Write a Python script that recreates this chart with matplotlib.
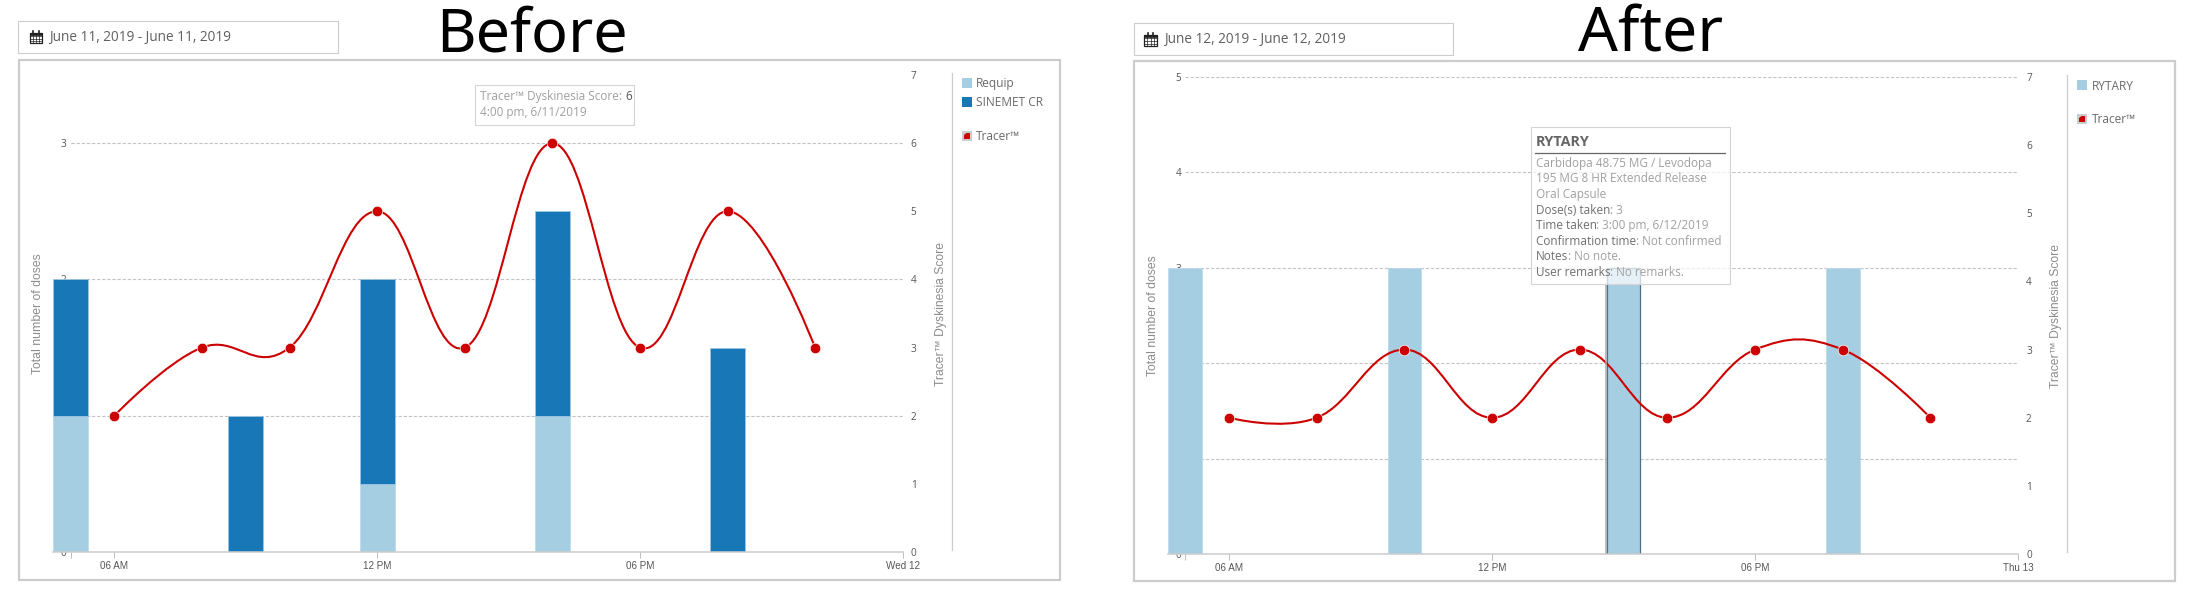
import matplotlib
matplotlib.use("Agg")
import matplotlib.pyplot as plt
from matplotlib.path import Path
from matplotlib.patches import PathPatch, Rectangle
from matplotlib.lines import Line2D

# ---------- data ----------
before_bar_hours = [5, 9, 12, 16, 20]
before_requip = [1, 0, 0.5, 1, 0]
before_sinemet = [1, 1, 1.5, 1.5, 1.5]
before_score_hours = [6, 8, 10, 12, 14, 16, 18, 20, 22]
before_score = [2, 3, 3, 5, 3, 6, 3, 5, 3]

after_bar_hours = [5, 10, 15, 20]
after_rytary = [3, 3, 3, 3]
after_score_hours = [6, 8, 10, 12, 14, 16, 18, 20, 22]
after_score = [2, 2, 3, 2, 3, 2, 3, 3, 2]

x_tick_hours = [5, 6, 12, 18, 24]
before_x_labels = ["", "06 AM", "12 PM", "06 PM", "Wed 12"]
after_x_labels = ["", "06 AM", "12 PM", "06 PM", "Thu 13"]
before_left_ticks = [0, 1, 2, 3]
after_left_ticks = [0, 1, 2, 3, 4, 5]
right_ticks = [0, 1, 2, 3, 4, 5, 6, 7]

LIGHT = "#a6cee3"
DARK = "#1877b6"
RED = "#cc0000"
GRID = "#c4c4c4"
UI = "Open Sans"
HELV = "Liberation Sans"
W, H = 2200, 600

fig = plt.figure(figsize=(22, 6), dpi=100, facecolor="white")


def spline_path(xs, ys, s=1.5):
    """Spline through the given points, with the overshoot the chart shows."""
    verts = [(xs[0], ys[0])]
    codes = [Path.MOVETO]
    n = len(xs)
    lc, rc = [None] * n, [None] * n
    for i in range(n):
        x, y = xs[i], ys[i]
        if i == 0 or i == n - 1:
            lc[i] = rc[i] = (x, y)
            continue
        lx, ly, nx, ny = xs[i - 1], ys[i - 1], xs[i + 1], ys[i + 1]
        lcx, lcy = (s * x + lx) / (s + 1), (s * y + ly) / (s + 1)
        rcx, rcy = (s * x + nx) / (s + 1), (s * y + ny) / (s + 1)
        corr = (rcy - lcy) * (rcx - x) / (rcx - lcx) + y - rcy
        lc[i], rc[i] = (lcx, lcy + corr), (rcx, rcy + corr)
    for i in range(1, n):
        verts += [rc[i - 1], lc[i], (xs[i], ys[i])]
        codes += [Path.CURVE4] * 3
    return Path(verts, codes)


def make_axes(px_left, px_right, px_top, px_bottom, left_max, left_ticks, x_labels):
    ax = fig.add_axes([px_left / W, 1 - px_bottom / H, (px_right - px_left) / W, (px_bottom - px_top) / H])
    ax.patch.set_alpha(0)
    ax.set_xlim(5 - 0.4, 24)
    ax.set_ylim(0, left_max)
    ax.set_axisbelow(True)
    for s in ["top", "left", "right"]:
        ax.spines[s].set_visible(False)
    ax.spines["bottom"].set_color("#cccccc")
    ax.spines["bottom"].set_linewidth(1.1)
    ax.set_xticks(x_tick_hours, x_labels, fontname=HELV, fontsize=7.1, color="#555555")
    ax.tick_params(axis="x", length=4.3, width=0.7, color="#bbbbbb", pad=2.2)
    ax.set_yticks(left_ticks)
    ax.tick_params(axis="y", length=0, pad=-9.6, labelsize=7.2, labelcolor="#555555")
    for lab in ax.get_yticklabels():
        lab.set_fontname(UI)
    for v in left_ticks:
        if v > 0:
            ax.plot([5, 24], [v, v], color=GRID, lw=0.8, dashes=(3, 1.6), zorder=0.6)
    tw = ax.twinx()
    tw.patch.set_alpha(0)
    tw.set_ylim(0, 7)
    tw.set_yticks(right_ticks)
    tw.tick_params(axis="y", length=0, pad=5.8, labelsize=7.2, labelcolor="#555555")
    for lab in tw.get_yticklabels():
        lab.set_fontname(UI)
    for s in tw.spines.values():
        s.set_visible(False)
    return ax, tw


def draw_score(tw, hours, score):
    tw.add_patch(PathPatch(spline_path(hours, score), fc="none", ec=RED, lw=1.5, zorder=3))
    tw.plot(hours, score, ls="none", marker="o", ms=7.6, mfc=RED, mec="white", mew=0.5, zorder=4)


# ---------- Before ----------
ax1, tw1 = make_axes(53, 902.7, 75, 552, 3.5, before_left_ticks, before_x_labels)
ax1.bar(before_bar_hours, before_requip, width=0.8, color=LIGHT, edgecolor="#bcdcec", lw=0.6, zorder=1)
ax1.bar(before_bar_hours, before_sinemet, width=0.8, bottom=before_requip, color=DARK,
        edgecolor="#9cc6e2", lw=0.6, zorder=1)
draw_score(tw1, before_score_hours, before_score)

# ---------- After ----------
ax2, tw2 = make_axes(1167.8, 2018, 77, 554, 5, after_left_ticks, after_x_labels)
bars = ax2.bar(after_bar_hours, after_rytary, width=0.77, color=LIGHT, edgecolor="#bcdcec", lw=0.6, zorder=1)
bars[2].set_edgecolor("#4f6f85")
bars[2].set_linewidth(0.9)
draw_score(tw2, after_score_hours, after_score)

# ---------- page furniture, in pixel coordinates ----------
ov = fig.add_axes([0, 0, 1, 1], zorder=10)
ov.set_xlim(0, W)
ov.set_ylim(H, 0)
ov.axis("off")


def box(x0, y0, x1, y1, ec="#cccccc", lw=0.8, fc="none", alpha=None, z=1):
    r = Rectangle((x0, y0), x1 - x0, y1 - y0, fc=fc, ec="none", alpha=alpha, zorder=z)
    ov.add_patch(r)
    ov.add_patch(Rectangle((x0, y0), x1 - x0, y1 - y0, fc="none", ec=ec, lw=lw, zorder=z))


def calendar(x0, y0, x1, y1):
    ov.add_patch(Rectangle((x0, y0 + 2), x1 - x0, y1 - y0 - 2, fc="white", ec="#222222", lw=0.9))
    ov.add_patch(Rectangle((x0, y0 + 2), x1 - x0, 2.6, fc="#222222", ec="#222222", lw=0.5))
    for f in (0.25, 0.5, 0.75):
        ov.add_line(Line2D([x0 + f * (x1 - x0)] * 2, [y0 + 4, y1], color="#222222", lw=0.5))
    for f in (0.4, 0.6, 0.8):
        yy = y0 + f * (y1 - y0) + 0.6
        ov.add_line(Line2D([x0, x1], [yy, yy], color="#222222", lw=0.5))
    for f in (0.27, 0.73):
        ov.add_line(Line2D([x0 + f * (x1 - x0)] * 2, [y0, y0 + 3], color="#222222", lw=1.2))


def legend_patch(x, y, color):
    ov.add_patch(Rectangle((x, y), 10, 10, fc=color, ec="none"))


def tracer_icon(x, y):
    ov.add_patch(Rectangle((x, y), 10, 10, fc="#cccccc", ec="none"))
    verts = [(x + 2, y + 8), (x + 2, y + 4), (x + 4.5, y + 2), (x + 8, y + 2), (x + 8, y + 8), (x + 2, y + 8)]
    ov.add_patch(PathPatch(Path(verts), fc=RED, ec="none"))


# panels
box(19, 59.5, 1059.5, 580, lw=1.6)
box(1133.5, 61, 2175, 581, lw=1.6)
# date boxes
box(18, 20.5, 337.5, 53)
box(1133.5, 22.5, 1452.5, 55)
calendar(29.5, 30.5, 42, 43)
calendar(1144, 32.5, 1157, 45.5)
ov.text(49, 37, "June 11, 2019 - June 11, 2019", family=UI, fontsize=9.85, color="#5f5f5f", va="center")
ov.text(1164, 39, "June 12, 2019 - June 12, 2019", family=UI, fontsize=9.85, color="#5f5f5f", va="center")
# hovered bar's shadow edge
ov.add_line(Line2D([1606, 1606], [284, 553], color="#a8a8a8", lw=1.1, zorder=2))
# titles
ov.text(532, 51, "Before", family="Noto Sans", fontsize=44, color="black", ha="center", va="baseline")
ov.text(1650.5, 52, "After", family="Noto Sans", fontsize=45, color="black", ha="center", va="baseline")
# axis titles
TC = "#8c8c8c"
ov.text(38, 314, "Total number of doses", family=HELV, fontsize=8.8, color=TC, rotation=90, ha="center", va="center")
ov.text(941, 314, "Tracer™ Dyskinesia Score", family=HELV, fontsize=8.7, color=TC, rotation=90, ha="center", va="center")
ov.text(1152.5, 316, "Total number of doses", family=HELV, fontsize=8.8, color=TC, rotation=90, ha="center", va="center")
ov.text(2056, 316, "Tracer™ Dyskinesia Score", family=HELV, fontsize=8.7, color=TC, rotation=90, ha="center", va="center")
# legends
ov.add_line(Line2D([951.5, 951.5], [73, 550], color="#cccccc", lw=0.9))
ov.add_line(Line2D([2066.5, 2066.5], [75, 552], color="#cccccc", lw=0.9))
legend_patch(962, 78, LIGHT)
legend_patch(962, 97, DARK)
tracer_icon(962, 131)
ov.text(976, 84, "Requip", family=UI, fontsize=8.6, color="#6a6a6a", va="center")
ov.text(976, 103, "SINEMET CR", family=UI, fontsize=8.6, color="#6a6a6a", va="center")
ov.text(976, 136.5, "Tracer™", family=UI, fontsize=8.6, color="#6a6a6a", va="center")
legend_patch(2077, 80, LIGHT)
tracer_icon(2077, 114)
ov.text(2091.5, 86, "RYTARY", family=UI, fontsize=8.6, color="#6a6a6a", va="center")
ov.text(2091.5, 119.5, "Tracer™", family=UI, fontsize=8.6, color="#6a6a6a", va="center")

# tooltips
renderer = fig.canvas.get_renderer()


def pair(x, y, first, second, c1="#6e6e6e", c2="#a0a0a0", fs=8.45):
    t = ov.text(x, y, first, family=UI, fontsize=fs, color=c1, va="center", zorder=6)
    if second:
        e = t.get_window_extent(renderer)
        ov.text(e.x1, y, second, family=UI, fontsize=fs, color=c2, va="center", zorder=6)


box(475, 84.5, 633.5, 124.5, ec="#d4d4d4", fc="white", alpha=0.8, z=5)
pair(480, 96.5, "Tracer™ Dyskinesia Score: ", "6", c1="#a0a0a0", c2="#555555")
pair(480, 112.5, "4:00 pm, 6/11/2019", "", c1="#a0a0a0")

box(1530.5, 126.5, 1729.5, 284, ec="#d4d4d4", fc="white", alpha=0.72, z=5)
ov.text(1535.5, 141.5, "RYTARY", family=UI, fontsize=10.4, fontweight="bold", color="#666666", va="center", zorder=6)
ov.add_line(Line2D([1535, 1725], [153, 153], color="#666666", lw=0.9, zorder=6))
pair(1535.5, 163, "Carbidopa 48.75 MG / Levodopa", "", c1="#a0a0a0")
pair(1535.5, 178.5, "195 MG 8 HR Extended Release", "", c1="#a0a0a0")
pair(1535.5, 194.5, "Oral Capsule", "", c1="#a0a0a0")
pair(1535.5, 210, "Dose(s) taken", ": 3")
pair(1535.5, 225.5, "Time taken", ": 3:00 pm, 6/12/2019")
pair(1535.5, 241.5, "Confirmation time", ": Not confirmed")
pair(1535.5, 256.5, "Notes", ": No note.")
pair(1535.5, 272.5, "User remarks", ": No remarks.")

fig.savefig("out.png", dpi=100, facecolor="white")
